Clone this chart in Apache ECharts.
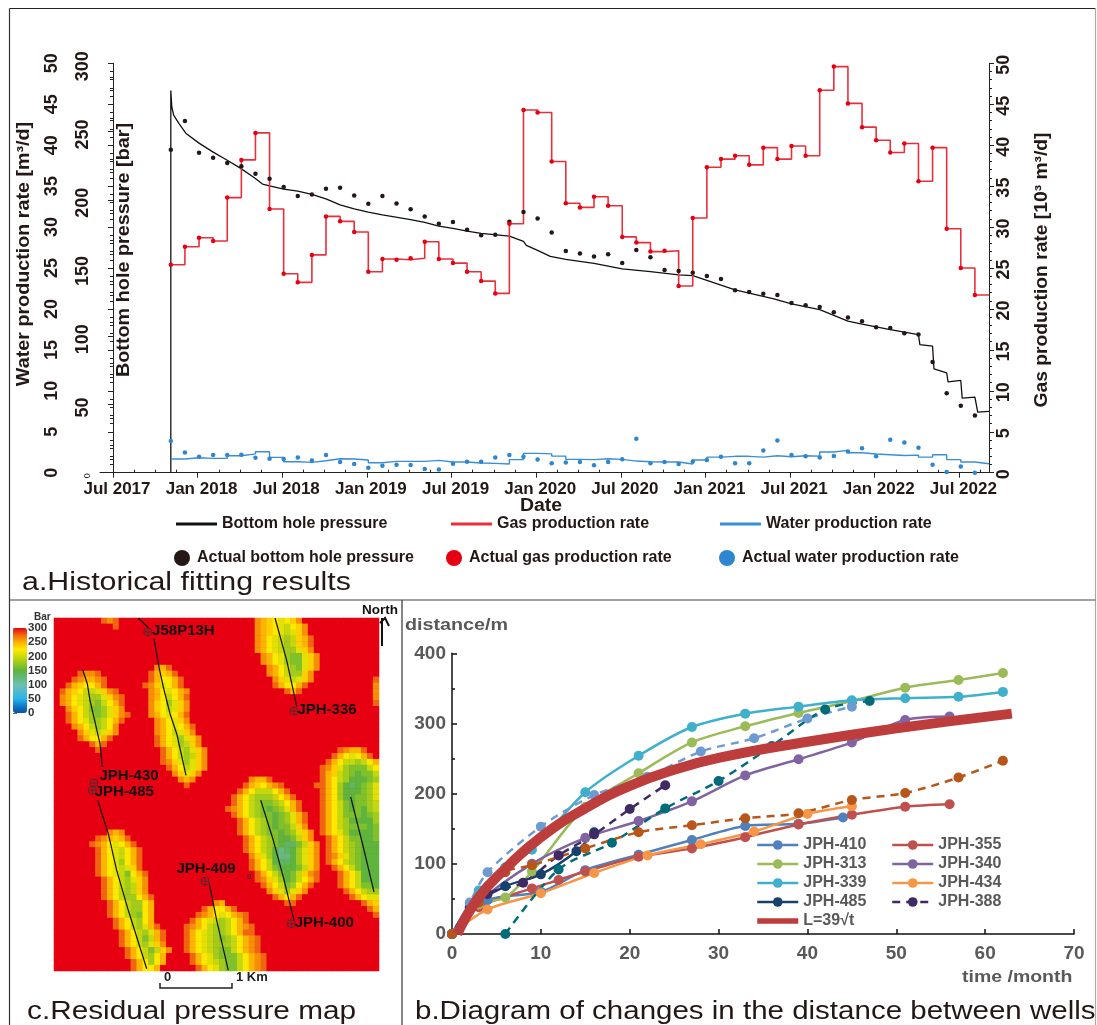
<!DOCTYPE html>
<html><head><meta charset="utf-8">
<style>html,body{margin:0;padding:0;background:#fff}#c{width:1097px;height:1025px}</style>
<script src="https://cdn.jsdelivr.net/npm/echarts@6/dist/echarts.min.js"></script>
</head><body><div id="c"></div>
<script>
// ---------- Panel a : history match (x = months after Jul 2017) ----------
const xTickMonths = [0,6,12,18,24,30,36,42,48,54,60];
const xTickLabels = ['Jul 2017','Jan 2018','Jul 2018','Jan 2019','Jul 2019','Jan 2020','Jul 2020','Jan 2021','Jul 2021','Jan 2022','Jul 2022'];
const xMinorMonths = [1.5,3,4.5,7.5,9,10.5,13.5,15,16.5,19.5,21,22.5,25.5,27,28.5,31.5,33,34.5,37.5,39,40.5,43.5,45,46.5,49.5,51,52.5,55.5,57,58.5,61.5];
const firstMonth = 4.1;
const gasActual = [25.4,27.6,28.7,28.3,33.6,38.2,41.5,32.2,24.3,23.25,26.6,31.3,30.7,29.4,24.55,26.1,26,26.2,28.2,26.1,25.6,24.55,23.4,21.9,30.4,44.3,44,
 38,32.9,32.4,33.7,32.6,28.8,28.1,27,27.1,22.8,31.1,37.3,38.3,38.7,37.6,39.7,38.3,39.9,38.7,46.7,49.6,45.1,42.2,40.6,39.1,40.2,35.6,39.7,29.8,25,21.7];
const pressureActual = [236.6,257.8,234.4,230.7,227,224.6,219,215.4,209.3,202.7,203.9,208,208.8,203.2,197,202.7,197.3,193,187.8,182.4,183.7,178,174,174.4,183.9,191,186.3,
 176,162.4,160.7,158.5,160,153.7,163.2,157.8,148.5,147.8,146.6,144.1,142,133.7,132.4,131.2,130.2,124.4,122.7,121.5,117.6,113.7,111,106.6,106.1,102.2,101.2,81.2,58.3,49,42];
const waterActual = [3.86,2.48,1.95,2.15,2.15,2.2,1.83,1.7,1.67,1.87,1.5,2.15,1.3,1.06,0.6,0.85,0.98,0.93,0.45,0.4,1.1,1.34,1.34,1.87,2.15,1.95,1.6,
 1.14,1.26,1.3,0.9,1.3,1.63,4.15,1.14,1.3,1.06,1.38,1.55,1.95,1.14,1.14,2.72,3.94,2.15,2,1.87,2.03,2.6,3,2,4.02,3.7,3.05,0.98,0.08,0.77,0];
const waterSim = [1.67,1.83,1.75,1.75,2.07,2.3,2.56,1.87,1.34,1.26,1.46,1.7,1.67,1.55,1.22,1.38,1.38,1.38,1.5,1.3,1.3,1.18,1.14,1.06,1.6,2.36,2.3,
 2.03,1.63,1.6,1.7,1.63,1.42,1.34,1.3,1.3,1.06,1.55,1.9,2,2,1.9,2.07,1.95,2.07,2.03,2.52,2.72,2.44,2.28,2.2,2.1,2.15,1.9,2.2,1.6,1.3,1.1,1.1];
const simIndex = [0,0,0.07,0.2,0.57,1.06,2,3,3.94,4.93,5.9,6.5,7,8,9,10,11,12,13,14,15,17,18,19,20,21,22,24,25,25.2,26,26.9,28,30,32,34,36,37,38,40,42.75,44,46,48,49,51,53,53.1,54,54.1,55,55.1,56,56.1,57,57.2,58];
const simPressure = [0,280,268,262,256,248.8,241.5,234.9,229.3,223.2,216.3,211.5,210.2,207.8,206.3,203.9,200.7,196.3,193.4,191,189,185.4,183.4,180.7,179,177,175.4,173.4,169.5,166.6,162.9,158.5,156.3,153.4,149.3,147.3,144.9,144.4,141,134,127.3,123.7,119.5,111,108.8,104.9,101.2,93.9,92.7,76,73.2,66.6,67.6,54.6,55.4,44.4,44.9];

// ---------- Panel c : residual pressure map ----------
const mapCols = 55, mapRows = 60;
const levelValues = {'0':300,'1':276,'2':262,'3':248,'4':236,'5':224,'6':210,'7':195,'8':180,'9':165,'a':150,'b':135,'c':120};
const heatRows = [
"8:121 34:23456542","10:1 34:234567542","34:234567642","34:2356787431","34:2356787431","34:2356788642","35:2356899642","35:2356899642",
"17:231 36:235789642","4:1221 16:13431 36:23578842","3:123321 16:135531 37:2467642 54:1","2:1345531 15:1246531 37:135531 54:2",
"1:1345776421 16:2356532 39:131 54:2","1:23567886421 16:2357531 54:2","1:23567897531 16:2458642 54:1","2:2457998642 16:2457642",
"2:13578986421 16:2356531","2:1356887531 17:235642","3:23578752 17:2356531","4:2467642 17:2357642","4:135531 17:13568642","6:131 17:13568742",
"7:1 18:13578642 48:12331","18:13578742 47:1356531","18:12468642 46:135778753","19:1357642 45:1246899975","20:24642 45:134789a997",
"21:232 33:2331 45:13578aaa98","22:1 32:1345321 44:11358aba986","31:135777531 45:1358aaa986","30:13578887531 45:1358aa9986",
"30:135789987531 45:13579a9987","29:1235789a98631 45:13579a9a87","30:1357899a98631 45:1357999a98","31:135789a98631 45:13578aaaa8",
"31:135789a99742 45:13578999a9","9:232 31:1357899a98642 45:13568aaaa9","7:123431 32:135789aa9742 46:135799aa9",
"6:12356531 32:135789abb9742 46:135789aaa","7:13567531 32:13578acba8642 46:135789aaa","7:13567531 33:2468acca8642 46:124689aaa",
"7:13568531 33:1357abba8642 46:135789aaa","7:13567641 33:13579aaa9742 47:13579aaa","7:135679531 34:13579a97421 48:1357aaa",
"8:13578642 34:12468a97531 48:1357aaa","8:13578742 35:135798531 48:135799a","8:13578742 36:2468642 49:135788","8:135788531 37:13531 50:13566",
"9:13578853 27:23 39:11 52:134","9:13578853 25:135531 53:13","9:13578953 24:123565321 54:1","10:1357853 23:1356787531",
"10:13578631 22:123578875321","11:13578631 22:135678875311","11:13579731 22:1356789875321","11:13578642 22:1356788875321",
"12:13579742 22:1356789975321","12:1357853 23:1356899975321","13:135853 23:1356789975321","13:13553 24:135689975321"];
const colorStops = ['#0b4ea2','#0f7cc8','#27b5ea','#4fb9d0','#6fbfae','#62b878','#5eb43c','#96c820','#cfdc08','#ffe800','#fbb000','#f06a10','#e60012'];
const wellPaths = [
 [[84.3,0],[94.3,9.7]],
 [[100,20.7],[105.3,50.7],[109.3,69],[116,95.7],[122.7,115.7],[132,157.3]],
 [[28.7,51.7],[33.3,65.7],[36,82.3],[46,125.7],[48.3,149]],
 [[43.7,182.3],[54.3,215.7],[62.7,252.3],[74.3,292.3],[92.7,350.7]],
 [[155.3,265.7],[162.7,302.3],[174.3,352.3]],
 [[221,0],[232.7,42.3],[242.7,88.3]],
 [[206.7,182.3],[219.3,222.3],[229.3,259],[240,302.3]],
 [[296.7,179],[309.3,229],[320,274]]];
const wellNames = ['J58P13H','JPH-430','JPH-485','JPH-409','JPH-336','JPH-400'];
const wellHeads = [[93.7,14],[40,165],[38.3,172.3],[151,263.3],[240,93],[237.3,305.7]];
const wellLabelOffsets = [[-2,-1],[-1,-7],[-4,2],[1,1],[-3,-1],[-3,-1]];

// ---------- Panel b : distance between wells ----------
const jph410 = [[0,0],[4,48],[10,60],[15,91],[21,113],[27,134],[33,154],[39,157],[44,166]];
const jph355 = [[0,0],[3,38],[9,65],[12,77],[15,89],[21,110],[27,122],[33,138],[39,156],[45,170],[51,181.5],[56,185]];
const jph313 = [[0,0],[3,42],[6,52],[9,89],[15,181],[21,229],[27,273],[33,296],[39,315],[45,332],[51,351],[57,362],[62,372]];
const jph340 = [[0,0],[3,45],[9,100],[15,137],[21,161],[27,189],[33,226],[39,249],[45,273],[51,305],[56,310]];
const jph339 = [[0,0],[3,62],[6,95],[9,120],[15,202],[21,254],[27,295],[33,314],[39,324],[45,333],[51,336],[57,338],[62,345]];
const jph434 = [[0,0],[4,35],[10,58],[16,87],[22,112],[28,128],[34,146],[40,171],[45,182]];
const jph485 = [[0,0],[2,38],[6,68],[10,85],[14,118],[16,145]];
const jph388 = [[0,0],[4,57],[8,73],[12,112],[16,142],[20,178],[24,212]];
const dashedBlue = [[0,0],[2,45],[4,88],[10,153],[16,198],[22,224],[28,260],[34,279],[40,307],[45,324]];
const dashedTeal = [[6,0],[12,92],[18,130],[24,179],[30,218],[36,268],[42,320],[47,332]];
const dashedBrown = [[0,0],[3,45],[6,88],[9,98],[15,122],[21,145],[27,155],[33,165],[39,172],[45,191],[51,201],[57,223],[62,247]];
const sqrtLaw = [[0.6,0],[3,52],[6,93],[10,138],[15,179],[20,211],[25,234],[30,251],[40,274],[50,293],[63,314]];

// ---------- builders ----------
const FONT = '"Liberation Sans", Arial, sans-serif';
const idx = a => a.map((v,i)=>[firstMonth+i, v]);
const heatData = [];
heatRows.forEach((row,r)=>{
  const cells = new Array(mapCols).fill('0');
  row.split(' ').forEach(seg=>{
    const [c,lv] = seg.split(':');
    lv.split('').forEach((ch,k)=>{ const col=+c+k; if(col<mapCols) cells[col]=ch; });
  });
  cells.forEach((ch,c)=>heatData.push([c,r,levelValues[ch]]));
});
const range = n => Array.from({length:n},(_,i)=>String(i));

const axisLine = {lineStyle:{color:'#222',width:1}};
const tickLabel = {fontFamily:FONT,fontWeight:'bold',color:'#231815'};
function yAxisA(pos,offset,max,interval,margin,extra){
  return {type:'value',gridIndex:0,position:pos,offset,min:0,max,interval,splitLine:{show:false},
    axisLine:{show:true,...axisLine},axisTick:{show:true,length:5,lineStyle:{color:'#222'}},
    minorTick:{show:true,splitNumber:5,length:3,lineStyle:{color:'#222'}},minorSplitLine:{show:false},
    axisLabel:{...tickLabel,fontSize:18,rotate:90,margin,...(extra||{})}};
}
const grayLabel = {fontFamily:FONT,fontWeight:'bold',color:'#595959',fontSize:19};

const xAxes = [
 {type:'value',gridIndex:0,min:-0.92,max:62.1,splitLine:{show:false},axisLine:{show:true,...axisLine},
  axisTick:{show:true,length:5,customValues:xTickMonths,lineStyle:{color:'#222'}},
  axisLabel:{...tickLabel,fontSize:17,margin:8,padding:[0,0,0,8],showMinLabel:true,showMaxLabel:true,customValues:xTickMonths,
    formatter:v=>xTickLabels[xTickMonths.indexOf(Math.round(v))]}},
 {type:'value',gridIndex:0,min:-0.92,max:62.1,splitLine:{show:false},axisLine:{show:false},
  axisTick:{show:true,length:3,customValues:xMinorMonths,lineStyle:{color:'#222'}},axisLabel:{show:false}},
 {type:'category',gridIndex:1,data:range(mapCols),show:false},
 {type:'value',gridIndex:1,min:0,max:325,show:false},
 {type:'value',gridIndex:2,min:0,max:70,interval:10,splitLine:{show:false},axisLine:{show:true,lineStyle:{color:'#111',width:1.5}},
  axisTick:{show:true,inside:true,length:5,lineStyle:{color:'#111',width:1.5}},axisLabel:{...grayLabel,margin:10}},
 {type:'value',gridIndex:3,min:0,max:1,show:false}
];
const yAxes = [
 yAxisA('left',34,50,5,5),
 yAxisA('left',0,300,50,8,{padding:[0,6,0,0],formatter:v=>v===0?'{s|0}':String(v),rich:{s:{fontSize:9,fontWeight:'normal',fontFamily:FONT}}}),
 yAxisA('right',0,50,5,6,{padding:[0,3,0,0]}),
 {type:'category',gridIndex:1,data:range(mapRows),inverse:true,show:false},
 {type:'value',gridIndex:1,min:0,max:353,inverse:true,show:false},
 {type:'value',gridIndex:2,min:0,max:400,interval:100,splitLine:{show:false},axisLine:{show:true,lineStyle:{color:'#111',width:1.5}},
  axisTick:{show:true,inside:true,length:5,lineStyle:{color:'#111',width:1.5}},
  minorTick:{show:true,splitNumber:2,length:3,lineStyle:{color:'#111',width:1.5}},axisLabel:{...grayLabel,margin:6}},
 {type:'value',gridIndex:3,position:'right',min:0,max:300,interval:50,splitLine:{show:false},axisLine:{show:false},
  axisTick:{show:true,length:4,lineStyle:{color:'#666'}},minorTick:{show:true,splitNumber:2,length:2,lineStyle:{color:'#888'}},
  axisLabel:{fontFamily:FONT,fontWeight:'bold',fontSize:11.5,color:'#333',margin:1}}
];

function obs(name,data,yi,color){return {name,type:'scatter',xAxisIndex:0,yAxisIndex:yi,data,symbolSize:4.5,itemStyle:{color,opacity:1},z:5};}
function step(name,data,yi,color,w){return {name,type:'line',xAxisIndex:0,yAxisIndex:yi,data,step:'end',showSymbol:false,symbol:'none',
  lineStyle:{color,width:w},itemStyle:{color},z:4,animation:false};}
function well(d,color,dash){return {type:'line',xAxisIndex:4,yAxisIndex:5,data:d.data,name:d.name,smooth:0.3,symbol:'circle',symbolSize:10,
  lineStyle:{color,width:2.5,type:dash?[8,6]:'solid'},itemStyle:{color},z:3};}

const series = [
 {name:'Bottom hole pressure',type:'line',xAxisIndex:0,yAxisIndex:1,data:simIndex.map((m,i)=>[firstMonth+m,simPressure[i]]),showSymbol:false,symbol:'none',
  lineStyle:{color:'#111',width:1.3},itemStyle:{color:'#111'},z:4},
 step('Gas production rate',idx(gasActual.concat(gasActual[gasActual.length-1])),2,'#e8303c',1.6),
 step('Water production rate',idx(waterSim),0,'#3a8fd4',1.4),
 obs('Actual bottom hole pressure',idx(pressureActual),1,'#231815'),
 obs('Actual gas production rate',idx(gasActual),2,'#e60012'),
 obs('Actual water production rate',idx(waterActual),0,'#2f86d0'),
 {name:'pressure map',type:'heatmap',xAxisIndex:2,yAxisIndex:3,data:heatData,progressive:0,animation:false,itemStyle:{borderWidth:0},emphasis:{disabled:true}}
];
const heatSeriesIndex = series.length-1;
wellPaths.forEach(p=>series.push({type:'line',xAxisIndex:3,yAxisIndex:4,data:p,symbol:'none',lineStyle:{color:'#111',width:1.2},z:6,silent:true}));
series.push({type:'scatter',xAxisIndex:3,yAxisIndex:4,z:7,symbol:'path://M0,5 A5,5 0 1,1 10,5 A5,5 0 1,1 0,5 Z M0,5 L10,5 M5,0 L5,10',symbolSize:8,
  itemStyle:{color:'rgba(0,0,0,0)',borderColor:'#333',borderWidth:0.8,opacity:1},
  data:wellNames.map((n,i)=>({name:n,value:wellHeads[i],label:{position:n==='JPH-409'?'top':'right',offset:wellLabelOffsets[i]}})),
  label:{show:true,formatter:'{b}',fontFamily:FONT,fontWeight:'bold',fontSize:15,color:'#111',distance:2}});
[
 {name:'JPH-410',data:jph410,c:'#4f81bd'},{name:'JPH-355',data:jph355,c:'#c0504d'},{name:'JPH-313',data:jph313,c:'#9bbb59'},
 {name:'JPH-340',data:jph340,c:'#8064a2'},{name:'JPH-339',data:jph339,c:'#3fb0cc'},{name:'JPH-434',data:jph434,c:'#f79646'},
 {name:'JPH-485',data:jph485,c:'#17406d'},{name:'JPH-388',data:jph388,c:'#3f2a63',dash:1},
 {name:'dashed blue',data:dashedBlue,c:'#6c9bd2',dash:1},{name:'dashed teal',data:dashedTeal,c:'#006c7a',dash:1},{name:'dashed brown',data:dashedBrown,c:'#b8561a',dash:1}
].forEach(w=>series.push(well(w,w.c,w.dash)));
series.push({name:'L=39√t',type:'line',xAxisIndex:4,yAxisIndex:5,data:sqrtLaw,smooth:0.5,showSymbol:false,symbol:'none',
  lineStyle:{color:'#bd3c3c',width:10,cap:'butt'},itemStyle:{color:'#bd3c3c'},z:8});

function lg(name,left,top,icon,w,h,pad){return {data:[name],left,top,icon,itemWidth:w,itemHeight:h,padding:0,selectedMode:false,
  textStyle:{fontFamily:FONT,fontWeight:'bold',fontSize:16,color:'#231815',padding:[0,0,0,pad]}};}
const rightLegend = (data,left)=>({data,left,top:837,orient:'vertical',itemWidth:41,itemHeight:12,itemGap:3,padding:0,selectedMode:false,
  lineStyle:{width:2.5},textStyle:{fontFamily:FONT,fontWeight:'bold',fontSize:16,color:'#595959',lineHeight:15}});
const legends = [
 lg('Bottom hole pressure',176,516,'rect',41,3,0),
 lg('Gas production rate',451,516,'rect',41,3,0),
 lg('Water production rate',720,516,'rect',41,3,0),
 lg('Actual bottom hole pressure',174,550,'circle',16,16,2),
 lg('Actual gas production rate',446,550,'circle',16,16,2),
 lg('Actual water production rate',719,550,'circle',16,16,2),
 rightLegend(['JPH-410','JPH-313','JPH-339','JPH-485',{name:'L=39√t',icon:'path://M0,0 L82,0 L82,11 L0,11 Z'}],756),
 rightLegend(['JPH-355','JPH-340','JPH-434','JPH-388'],891)
];

function txt(text,x,y,font,fill,sx,align){return {type:'text',x,y,silent:true,z:20,scaleX:sx||1,
  style:{text,font:font+' '+FONT,fill:fill||'#231815',align:align||'left',verticalAlign:'middle'}};}
function rot(text,x,y,font,sx){const t=txt(text,x,y,font,'#231815',sx,'center');t.rotation=Math.PI/2;return t;}
function seg(x1,y1,x2,y2,c,w){return {type:'line',silent:true,z:20,shape:{x1,y1,x2,y2},style:{stroke:c,lineWidth:w}};}
function poly(pts,c,w){return {type:'polyline',silent:true,z:20,shape:{points:pts},style:{stroke:c,lineWidth:w,fill:null}};}
const graphics = [
 seg(9.5,8.5,1095.5,8.5,'#222',1.2), seg(9.5,8.5,9.5,1025,'#333',1.2), seg(1095.5,8.5,1095.5,1025,'#aaa',1.2),
 seg(9.5,600,1095.5,600,'#444',1.2), seg(402,600,402,1025,'#333',1.2),
 rot('Water production rate [m³/d]',24,254,'bold 18px',1.095),
 rot('Bottom hole pressure [bar]',124,250,'bold 18px',1.1),
 rot('Gas production rate [10³ m³/d]',1042,270,'bold 18px',1.07),
 txt('Date',541,506,'bold 18px','#231815',1.08,'center'),
 txt('a.Historical fitting results',22,583,'25px','#231815',1.214),
 txt('c.Residual pressure map',27,1012,'25px','#231815',1.19),
 txt('b.Diagram of changes in the distance between wells',415,1012,'25px','#231815',1.18),
 txt('Bar',34,617,'bold 10px','#333'),
 txt('North',362,610,'bold 13.5px','#111'),
 poly([[382,646],[382,618]],'#111',2), poly([[380,623],[385,618],[389,626]],'#111',2),
 txt('0',164,977,'bold 13px','#222'),
 txt('1 Km',236,977,'bold 13px','#222'),
 txt('9',247,877,'8px','#222'),
 poly([[160,983],[160,988],[232,988],[232,983]],'#222',1.5),
 txt('distance/m',405,625,'bold 17px','#595959',1.16),
 txt('time /month',962,977,'bold 17px','#595959',1.146)
];

const chart = echarts.init(document.getElementById('c'),null,{renderer:'canvas'});
chart.setOption({
 animation:false,backgroundColor:'#fff',
 grid:[
  {left:100,top:63.3,width:889,height:409.4,containLabel:false},
  {left:54,top:618,width:325,height:353,show:true,backgroundColor:'#e60012',borderWidth:0},
  {left:452,top:653.3,width:622,height:280.7},
  {left:13,top:628,width:14,height:85}
 ],
 xAxis:xAxes,yAxis:yAxes,legend:legends,series,graphic:{elements:graphics},
 visualMap:{type:'continuous',min:0,max:300,left:13,top:628,itemWidth:14,itemHeight:85,padding:0,showLabel:false,text:null,calculable:false,
  seriesIndex:heatSeriesIndex,inRange:{color:colorStops},hoverLink:false}
});
</script></body></html>
